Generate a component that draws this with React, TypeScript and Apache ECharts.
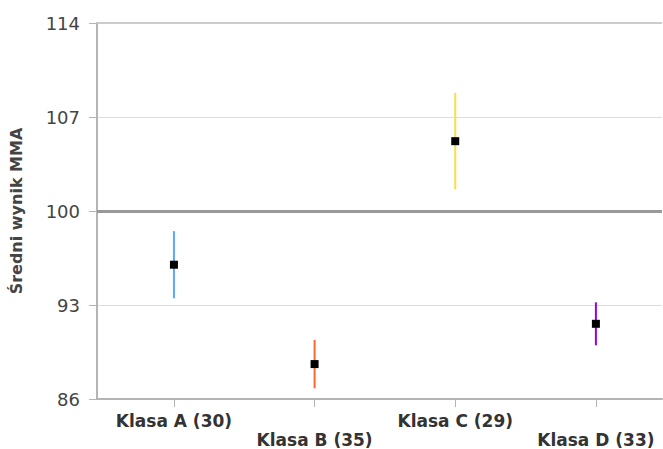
import React, { useEffect, useRef } from "react";
import * as echarts from "echarts";

const categories = ["Klasa A (30)", "Klasa B (35)", "Klasa C (29)", "Klasa D (33)"];
const means = [96.0, 88.6, 105.2, 91.6];
const lows = [93.5, 86.8, 101.6, 90.0];
const highs = [98.5, 90.4, 108.8, 93.2];
const barColors = ["#55aaff", "#ff6a2a", "#fbdc4c", "#9a00dd"];
const yTicks = [86, 93, 100, 107, 114];
const yAxisTitle = "Średni wynik MMA";

export default function App() {
  const ref = useRef<HTMLDivElement>(null);
  useEffect(() => {
    if (!ref.current) return;
    const chart = echarts.init(ref.current, undefined, { renderer: "svg" });
    const idx = categories.map((_, i) => i);
    chart.setOption({
      animation: false,
      backgroundColor: "#ffffff",
      grid: { left: 97, right: 1, top: 23, bottom: 47 },
      xAxis: {
        type: "value",
        min: -0.547,
        max: 3.47,
        splitLine: { show: false },
        axisLine: { show: true, onZero: false, lineStyle: { color: "#b4b4b4", width: 2 } },
        axisTick: { show: true, customValues: idx, length: 8, lineStyle: { color: "#b4b4b4", width: 1 } },
        axisLabel: {
          show: true,
          customValues: idx,
          margin: 12,
          formatter: (v: number) => {
            const i = Math.round(v);
            return i % 2 === 1 ? "\n" + categories[i] : categories[i];
          },
          fontFamily: "DejaVu Sans",
          fontWeight: "bold",
          fontSize: 17,
          lineHeight: 19,
          color: "#333333",
        },
      },
      yAxis: {
        type: "value",
        min: yTicks[0],
        max: yTicks[yTicks.length - 1],
        interval: 7,
        name: yAxisTitle,
        nameLocation: "middle",
        nameGap: 73,
        nameRotate: 90,
        nameTextStyle: { fontFamily: "DejaVu Sans", fontWeight: "bold", fontSize: 16, color: "#444444" },
        axisLine: { show: true, onZero: false, lineStyle: { color: "#b4b4b4", width: 2 } },
        axisTick: { show: true, length: 8, lineStyle: { color: "#b4b4b4", width: 1 } },
        axisLabel: { margin: 17, fontFamily: "DejaVu Sans", fontSize: 18, color: "#444444" },
        splitLine: { show: true, lineStyle: { color: "#dddddd", width: 1 } },
      },
      series: [
        {
          type: "custom",
          renderItem: (params: any, api: any) => {
            const x = api.value(0);
            const p1 = api.coord([x, api.value(1)]);
            const p2 = api.coord([x, api.value(2)]);
            return {
              type: "line",
              shape: { x1: p1[0], y1: p1[1], x2: p2[0], y2: p2[1] },
              style: { stroke: barColors[params.dataIndex], lineWidth: 2 },
            };
          },
          data: idx.map((i) => [i, lows[i], highs[i]]),
          markLine: {
            silent: true,
            symbol: "none",
            label: { show: false },
            data: [
              { yAxis: 100, lineStyle: { color: "#999999", width: 3, type: "solid" } },
              { yAxis: 114, lineStyle: { color: "#cccccc", width: 2, type: "solid" } },
            ],
          },
          z: 2,
        },
        {
          type: "scatter",
          symbol: "rect",
          symbolSize: 8,
          itemStyle: { color: "#000000", opacity: 1 },
          data: idx.map((i) => [i, means[i]]),
          z: 3,
        },
      ],
    });
    return () => chart.dispose();
  }, []);
  return <div ref={ref} style={{ position: "fixed", left: 0, top: 0, width: 663, height: 449 }} />;
}
